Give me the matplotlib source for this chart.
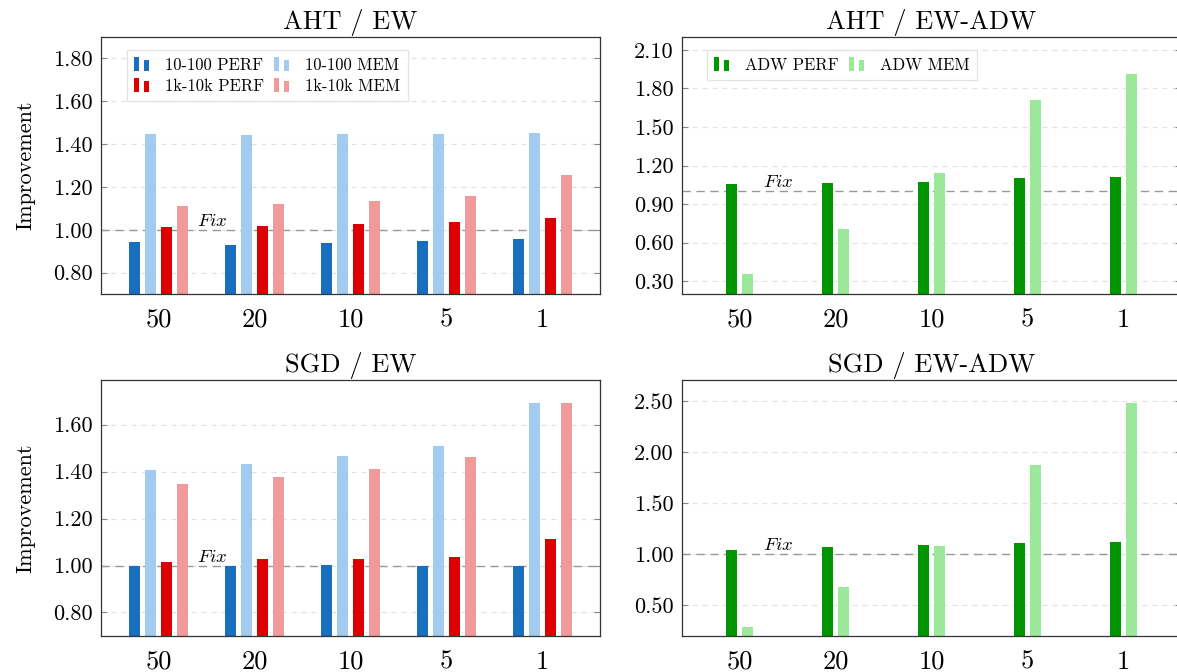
import numpy as np
import matplotlib
matplotlib.use("Agg")
import matplotlib.pyplot as plt
import matplotlib.patches as mpatches
from matplotlib.legend_handler import HandlerBase

plt.rcParams['font.family'] = ['cmr10', 'DejaVu Serif']
plt.rcParams['mathtext.fontset'] = 'cm'
plt.rcParams['axes.formatter.use_mathtext'] = True

# data
groups = ['50', '20', '10', '5', '1']

# AHT / EW
aht_ew_perf_small = [0.945, 0.930, 0.936, 0.948, 0.959]
aht_ew_mem_small = [1.447, 1.443, 1.447, 1.447, 1.451]
aht_ew_perf_large = [1.014, 1.019, 1.027, 1.037, 1.056]
aht_ew_mem_large = [1.109, 1.120, 1.134, 1.156, 1.254]

# SGD / EW
sgd_ew_perf_small = [0.997, 0.999, 1.001, 1.000, 0.996]
sgd_ew_mem_small = [1.407, 1.434, 1.467, 1.508, 1.692]
sgd_ew_perf_large = [1.014, 1.027, 1.027, 1.037, 1.115]
sgd_ew_mem_large = [1.349, 1.377, 1.410, 1.461, 1.692]

# AHT / EW-ADW
aht_adw_perf = [1.058, 1.066, 1.068, 1.100, 1.111]
aht_adw_mem = [0.358, 0.703, 1.139, 1.706, 1.909]

# SGD / EW-ADW
sgd_adw_perf = [1.039, 1.072, 1.095, 1.114, 1.121]
sgd_adw_mem = [0.289, 0.680, 1.078, 1.874, 2.484]

c_blue = '#1a6ec0'
c_lblue = '#a2cbf0'
c_red = '#dc0000'
c_pink = '#f09a9a'
c_green = '#009600'
c_lgreen = '#9be89b'


class TwoBarHandler(HandlerBase):
    # pgfplots-style ybar legend image: two small bars
    def create_artists(self, legend, orig_handle, xdescent, ydescent,
                       width, height, fontsize, trans):
        fc = orig_handle.get_facecolor()
        x0, y0 = -xdescent, -ydescent - 0.1 * height
        w = width * 0.3
        r1 = mpatches.Rectangle((x0, y0), w, height * 1.2,
                                facecolor=fc, edgecolor='none', transform=trans)
        r2 = mpatches.Rectangle((x0 + 0.6 * width, y0), w, height * 0.95,
                                facecolor=fc, edgecolor='none', transform=trans)
        return [r1, r2]


def style_axes(ax, ylim, yticks, fix_x):
    ax.set_xlim(-0.6, 4.6)
    ax.set_ylim(*ylim)
    ax.set_yticks(yticks)
    ax.set_yticklabels([f"{t:.2f}" for t in yticks])
    ax.set_xticks(range(len(groups)))
    ax.set_xticklabels(groups)
    ax.tick_params(axis='y', direction='in', length=4, color='#888888',
                   left=True, right=True, labelsize=16, pad=6)
    ax.tick_params(axis='x', length=0, labelsize=19, pad=10)
    ax.yaxis.grid(True, color='#e2e2e2', linestyle=(0, (4, 4)), lw=0.9)
    ax.set_axisbelow(True)
    for s in ax.spines.values():
        s.set_color('#333333')
        s.set_linewidth(0.9)
    ax.axhline(1.0, color='#999999', lw=1.0, linestyle=(0, (6, 4)), zorder=1.5)
    ax.text(fix_x, 1.0, r'$Fix$', ha='center', va='bottom', fontsize=13.5)


fig = plt.figure(figsize=(11.77, 6.72), dpi=100)
ax1 = fig.add_axes([0.0858, 0.5625, 0.424, 0.3824])
ax2 = fig.add_axes([0.5794, 0.5625, 0.424, 0.3824])
ax3 = fig.add_axes([0.0858, 0.0536, 0.424, 0.381])
ax4 = fig.add_axes([0.5794, 0.0536, 0.424, 0.381])

x = np.arange(len(groups))
bw = 0.11
sp = 1 / 6.0

for ax, series in [(ax1, [aht_ew_perf_small, aht_ew_mem_small, aht_ew_perf_large, aht_ew_mem_large]),
                   (ax3, [sgd_ew_perf_small, sgd_ew_mem_small, sgd_ew_perf_large, sgd_ew_mem_large])]:
    for i, (vals, c) in enumerate(zip(series, [c_blue, c_lblue, c_red, c_pink])):
        ax.bar(x + (i - 1.5) * sp, vals, width=bw, color=c, zorder=2)

for ax, series in [(ax2, [aht_adw_perf, aht_adw_mem]), (ax4, [sgd_adw_perf, sgd_adw_mem])]:
    for i, (vals, c) in enumerate(zip(series, [c_green, c_lgreen])):
        ax.bar(x + (i - 0.5) * sp, vals, width=bw, color=c, zorder=2)

style_axes(ax1, (0.70, 1.90), [0.8, 1.0, 1.2, 1.4, 1.6, 1.8], 0.56)
style_axes(ax3, (0.70, 1.79), [0.8, 1.0, 1.2, 1.4, 1.6], 0.56)
style_axes(ax2, (0.20, 2.20), [0.3, 0.6, 0.9, 1.2, 1.5, 1.8, 2.1], 0.40)
style_axes(ax4, (0.20, 2.71), [0.5, 1.0, 1.5, 2.0, 2.5], 0.40)

for ax, t in [(ax1, 'AHT / EW'), (ax2, 'AHT / EW-ADW'),
              (ax3, 'SGD / EW'), (ax4, 'SGD / EW-ADW')]:
    ax.set_title(t, fontsize=19, pad=6)
ax1.set_ylabel('Improvement', fontsize=16, labelpad=13)
ax3.set_ylabel('Improvement', fontsize=16, labelpad=13)

# legends
h1 = [mpatches.Patch(facecolor=c) for c in [c_blue, c_red, c_lblue, c_pink]]
l1 = ['10-100 PERF', '1k-10k PERF', '10-100 MEM', '1k-10k MEM']
ax1.legend(h1, l1, ncol=2, loc='upper left', bbox_to_anchor=(0.052, 0.95),
           borderaxespad=0, fontsize=12, frameon=True, fancybox=False,
           edgecolor='#dddddd', handlelength=1.0, handletextpad=0.85,
           columnspacing=0.6, labelspacing=0.35, borderpad=0.45,
           handler_map={mpatches.Patch: TwoBarHandler()})
ax1.get_legend().get_frame().set_linewidth(0.9)

h2 = [mpatches.Patch(facecolor=c) for c in [c_green, c_lgreen]]
l2 = ['ADW PERF', 'ADW MEM']
ax2.legend(h2, l2, ncol=2, loc='upper left', bbox_to_anchor=(0.05, 0.95),
           borderaxespad=0, fontsize=12, frameon=True, fancybox=False,
           edgecolor='#dddddd', handlelength=1.0, handletextpad=0.85,
           columnspacing=0.6, borderpad=0.45,
           handler_map={mpatches.Patch: TwoBarHandler()})
ax2.get_legend().get_frame().set_linewidth(0.9)

fig.savefig('out.png', dpi=100)
